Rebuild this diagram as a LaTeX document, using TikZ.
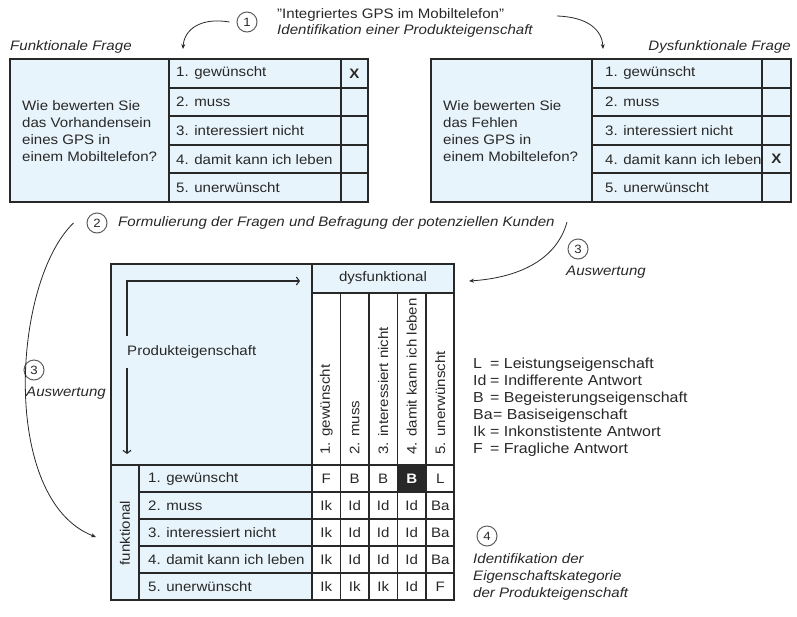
\documentclass[tikz,border=0pt]{standalone}
\usepackage{fontspec}
\setmainfont[FakeStretch=1.1]{Liberation Sans}
\usetikzlibrary{arrows.meta}
\definecolor{qblue}{RGB}{232,244,251}
\definecolor{ink}{RGB}{40,40,40}
\tikzset{
  tabline/.style={draw=ink, line width=1.1pt},
  txt/.style={font=\fontsize{13.7}{17}\selectfont, text=ink, inner sep=0pt},
  itxt/.style={txt, font=\fontsize{13.7}{17}\selectfont\itshape},
  btxt/.style={txt, font=\fontsize{13.7}{17}\selectfont\bfseries},
  legtxt/.style={txt, font=\fontsize{14.5}{17}\selectfont},
  stepnum/.style={circle, draw=ink!75, line width=1pt, minimum size=20pt, inner sep=0pt, font=\fontsize{12}{12}\selectfont, text=ink},
  flow/.style={draw=ink, line width=0.8pt, -{Stealth[length=5pt,width=4pt]}},
  axis/.style={draw=ink, line width=1.1pt, -{Straight Barb[length=3pt,width=8pt]}},
}
\begin{document}
\begin{tikzpicture}[x=1pt,y=-1pt]
  \useasboundingbox (0,0) rectangle (797,616);

  % step 1
  \node[stepnum] (s1) at (247,22) {1};
  \node[txt, anchor=west] (gps) at (277,15) {"Integriertes GPS im Mobiltelefon"};
  \node[itxt, anchor=west] (ident) at (277,31) {Identifikation einer Produkteigenschaft};
  \coordinate (fin) at (183,49);
  \coordinate (dout) at (557,16);
  \coordinate (din) at (603,49);
  \draw[flow] ([xshift=-7pt]s1.west) .. controls (200,17) and (184,30) .. (fin);
  \draw[flow] (dout) .. controls (588,17) and (602,30) .. (din);

  % funktionale Frage
  \node[itxt, anchor=west] (fq) at (10,47) {Funktionale Frage};
  \filldraw[fill=qblue, tabline] (10,59) rectangle (368,202);
  \draw[tabline] (169,59) -- (169,202) (341,59) -- (341,202);
  \foreach \y in {88,116,145,173}
    \draw[tabline] (169,\y) -- (368,\y);
  \node[txt, align=left, anchor=west] (fquest) at (22,131) {Wie bewerten Sie\\das Vorhandensein\\eines GPS in\\einem Mobiltelefon?};
  \foreach \t [count=\i] in {gewünscht,muss,interessiert nicht,damit kann ich leben,unerwünscht}
    \node[txt, anchor=west] (fopt\i) at (176,{59+(\i-0.5)*28.6}) {\i. \t};
  \node[btxt] (fx) at (354.5,73.3) {X};

  % dysfunktionale Frage
  \node[itxt, anchor=east] (dq) at (791,47) {Dysfunktionale Frage};
  \filldraw[fill=qblue, tabline] (431,59) rectangle (791,202);
  \draw[tabline] (592,59) -- (592,202) (762,59) -- (762,202);
  \foreach \y in {88,116,145,173}
    \draw[tabline] (592,\y) -- (791,\y);
  \node[txt, align=left, anchor=west] (dquest) at (443,131) {Wie bewerten Sie\\das Fehlen\\eines GPS in\\einem Mobiltelefon?};
  \foreach \t [count=\i] in {gewünscht,muss,interessiert nicht,damit kann ich leben,unerwünscht}
    \node[txt, anchor=west] (dopt\i) at (605,{59+(\i-0.5)*28.6}) {\i. \t};
  \node[btxt] (dx) at (776.5,159.1) {X};

  % step 2
  \node[stepnum] (s2) at (97,223) {2};
  \node[itxt, anchor=west] (form) at (118,223) {Formulierung der Fragen und Befragung der potenziellen Kunden};

  % step 3
  \node[stepnum] (s3a) at (34,370) {3};
  \node[itxt, anchor=west] (aw1) at (26,393) {Auswertung};
  \node[stepnum] (s3b) at (578,249) {3};
  \node[itxt, anchor=west] (aw2) at (566,272) {Auswertung};
  \coordinate (fnk) at (96,537);
  \coordinate (kout) at (567,222);
  \coordinate (dys) at (469,281);
  \draw[flow] ([xshift=-13pt]s2.west) .. controls (12,282) and (0,500) .. (fnk);
  \draw[flow] (kout) .. controls (556,262) and (515,278) .. (dys);

  % Auswertungsmatrix
  \fill[qblue] (111,264) rectangle (312,600);
  \fill[qblue] (312,264) rectangle (454,293);
  \fill[ink] (397.5,465) rectangle (426,492);
  \draw[tabline] (111,264) rectangle (454,600);
  \draw[tabline] (312,264) -- (312,600) (312,293) -- (454,293) (111,465) -- (454,465) (139,465) -- (139,600);
  \foreach \x in {340.5,369,397.5,426}
    \draw[tabline] (\x,293) -- (\x,600);
  \foreach \y in {492,519,546,573}
    \draw[tabline] (139,\y) -- (454,\y);
  \node[txt] (dysf) at (383,278) {dysfunktional};
  \node[txt, rotate=90] (funk) at (125,533) {funktional};
  \node[txt, anchor=west, inner ysep=9pt] (prod) at (127,352) {Produkteigenschaft};
  \coordinate (corner) at (127,281);
  \coordinate (pend) at (300,281);
  \coordinate (pdown) at (127,454);
  \draw[axis] (prod.north west) -- (corner) -- (pend);
  \draw[axis] (prod.south west) -- (pdown);
  \foreach \t [count=\i] in {gewünscht,muss,interessiert nicht,damit kann ich leben,unerwünscht}{
    \node[txt, rotate=90, anchor=west] (col\i) at ({312+(\i-0.5)*28.5},455) {\i. \t};
    \node[txt, anchor=west] (row\i) at (148,{465+(\i-0.5)*27}) {\i. \t};
  }
  \foreach \vals [count=\r] in {{F,B,B,B,L},{Ik,Id,Id,Id,Ba},{Ik,Id,Id,Id,Ba},{Ik,Id,Id,Id,Ba},{Ik,Ik,Ik,Id,F}}
    \foreach \v [count=\c] in \vals {
      \ifnum\r\c=14 \tikzset{cellsty/.style={btxt, text=white}}\else\tikzset{cellsty/.style={txt}}\fi
      \node[cellsty] (m\r\c) at ({312+(\c-0.5)*28.5},{465+(\r-0.5)*27}) {\v};
    }

  % Legende
  \foreach \k/\v/\xe [count=\i] in {L/Leistungseigenschaft/490,Id/Indifferente Antwort/490,B/Begeisterungseigenschaft/490,Ba/Basiseigenschaft/493,Ik/Inkonstistente Antwort/490,F/Fragliche Antwort/490}{
    \node[legtxt, anchor=base west] (key\i) at (473,{368+(\i-1)*17}) {\k};
    \node[legtxt, anchor=base west] (val\i) at (\xe,{368+(\i-1)*17}) {= \v};
  }

  % step 4
  \node[stepnum] (s4) at (487,536) {4};
  \node[itxt, align=left, anchor=north west] (cat) at (473,553) {Identifikation der\\Eigenschaftskategorie\\der Produkteigenschaft};
\end{tikzpicture}
\end{document}
